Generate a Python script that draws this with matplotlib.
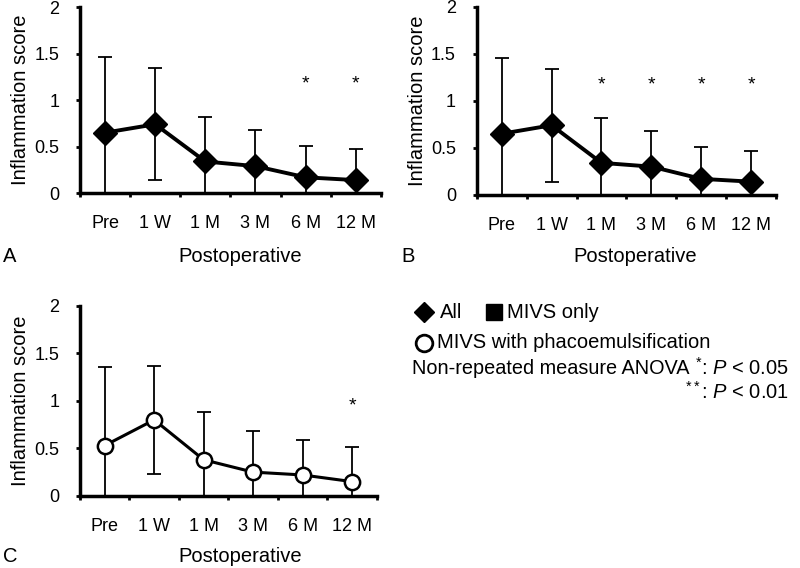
import matplotlib
matplotlib.use('Agg')
import matplotlib.pyplot as plt
from matplotlib.lines import Line2D

plt.rcParams['font.family'] = ['Liberation Sans', 'DejaVu Sans']
plt.rcParams['mathtext.fontset'] = 'custom'
plt.rcParams['mathtext.rm'] = 'Liberation Sans'
plt.rcParams['mathtext.it'] = 'Liberation Sans:italic'

labels = ['Pre', '1 W', '1 M', '3 M', '6 M', '12 M']

# A: all eyes
all_mean = [0.65, 0.74, 0.34, 0.29, 0.17, 0.14]
all_sd = [0.81, 0.60, 0.48, 0.39, 0.34, 0.33]
all_star = [4, 5]

# B: MIVS only
only_mean = [0.65, 0.74, 0.34, 0.30, 0.17, 0.14]
only_sd = [0.81, 0.60, 0.48, 0.38, 0.34, 0.33]
only_star = [2, 3, 4, 5]

# C: MIVS with phacoemulsification
phaco_mean = [0.53, 0.80, 0.38, 0.25, 0.22, 0.15]
phaco_sd = [0.83, 0.57, 0.50, 0.43, 0.37, 0.36]
phaco_star = [5]

fig = plt.figure(figsize=(8, 5.68), dpi=100)

def panel(rect, mean, sd, stars, star_y, marker, open_mk=False):
    ax = fig.add_axes(rect)
    x = [i + 0.5 for i in range(len(mean))]
    ax.errorbar(x, mean, yerr=sd, fmt='none', ecolor='k', elinewidth=1.3,
                capsize=5, capthick=1.3, zorder=2)
    if open_mk:
        ax.plot(x, mean, '-', color='k', lw=2.2, marker=marker, ms=11,
                mfc='white', mec='k', mew=1.8, zorder=3)
    else:
        ax.plot(x, mean, '-', color='k', lw=2.8, marker=marker, ms=12,
                mfc='k', mec='k', zorder=3)
    for s in stars:
        ax.text(x[s], star_y, '*', ha='center', va='center', fontsize=14)
    ax.set_xlim(0, 6)
    ax.set_ylim(0, 2)
    ax.set_yticks([0, 0.5, 1, 1.5, 2])
    ax.set_yticklabels(['0', '0.5', '1', '1.5', '2'])
    ax.set_xticks(range(7))
    ax.set_xticklabels([])
    ax.set_xticks(x, minor=True)
    ax.set_xticklabels(labels, minor=True)
    ax.tick_params(axis='x', which='minor', length=0, pad=16, labelsize=13)
    ax.tick_params(axis='x', which='major', length=3, width=2, direction='out')
    ax.tick_params(axis='y', length=3, width=2, direction='out', labelsize=13, pad=12)
    for sp in ['top', 'right']:
        ax.spines[sp].set_visible(False)
    for sp in ['left', 'bottom']:
        ax.spines[sp].set_linewidth(2.5)
    ax.set_ylabel('Inflammation score', fontsize=14.5, labelpad=3)
    return ax

panel([0.1, 0.660, 0.376, 0.3275], all_mean, all_sd, all_star, 1.17, 'D')
panel([0.596, 0.657, 0.374, 0.331], only_mean, only_sd, only_star, 1.17, 'D')
panel([0.1, 0.127, 0.371, 0.3345], phaco_mean, phaco_sd, phaco_star, 0.95, 'o', open_mk=True)

H = 568.0
def fy(py):
    return 1 - py / H

fig.text(3 / 800, fy(257), 'A', fontsize=14.5, va='center')
fig.text(240 / 800, fy(257), 'Postoperative', fontsize=14.5, ha='center', va='center')
fig.text(401 / 800, fy(257), 'B', fontsize=14.5, va='center')
fig.text(635 / 800, fy(257), 'Postoperative', fontsize=14.5, ha='center', va='center')
fig.text(3 / 800, fy(557), 'C', fontsize=14.5, va='center')
fig.text(240 / 800, fy(557), 'Postoperative', fontsize=14.5, ha='center', va='center')

# legend
fig.add_artist(Line2D([424 / 800], [fy(312)], marker='D', ms=10, color='k',
                      transform=fig.transFigure))
fig.text(440 / 800, fy(312), 'All', fontsize=14.5, va='center')
fig.add_artist(Line2D([494 / 800], [fy(312)], marker='s', ms=11, color='k',
                      transform=fig.transFigure))
fig.text(507 / 800, fy(312), 'MIVS only', fontsize=14.5, va='center')
fig.add_artist(Line2D([424 / 800], [fy(343)], marker='o', ms=12, mfc='white',
                      mec='k', mew=2, transform=fig.transFigure))
fig.text(437 / 800, fy(343), 'MIVS with phacoemulsification', fontsize=14.5, va='center')
fig.text(412 / 800, fy(368), 'Non-repeated measure ANOVA', fontsize=14.3, va='center')
fig.text(789 / 800, fy(368), r'$^{*}$: $P$ < 0.05', fontsize=14.5, va='center', ha='right')
fig.text(789 / 800, fy(392), r'$^{**}$: $P$ < 0.01', fontsize=14.5, va='center', ha='right')

fig.savefig('out.png', dpi=100)
